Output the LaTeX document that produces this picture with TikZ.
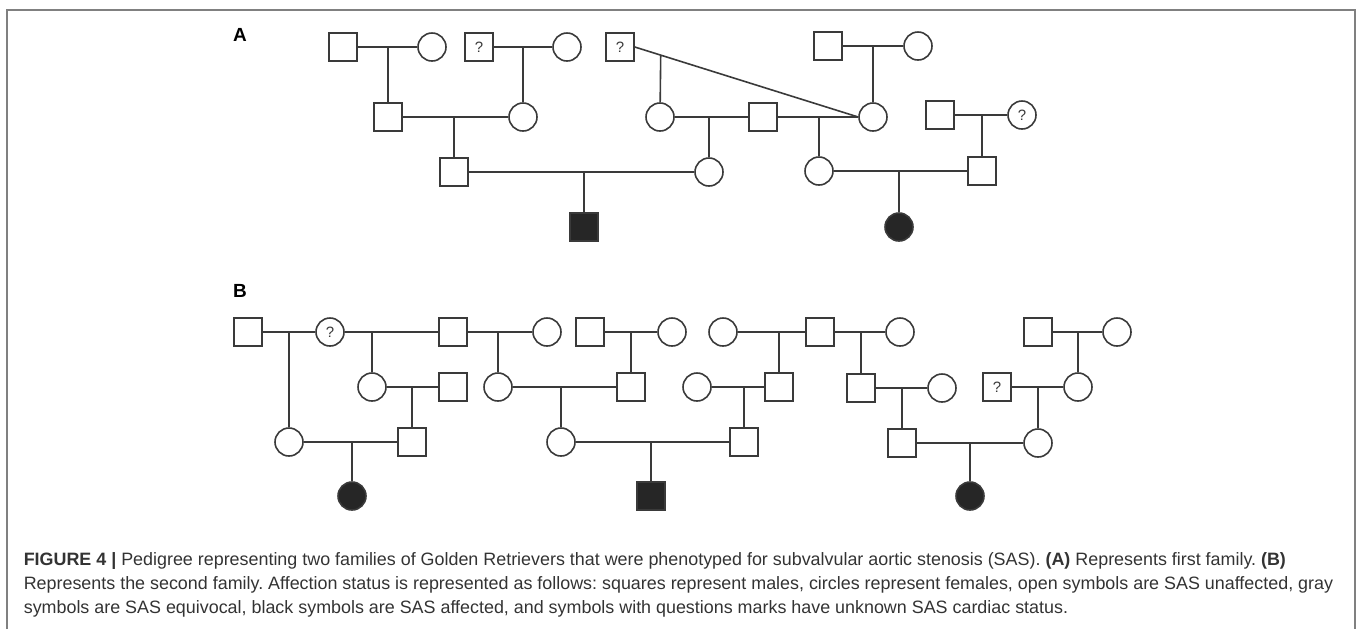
\documentclass[tikz,border=0pt]{standalone}
\usepackage{fontspec}
\setmainfont{Liberation Sans}
\usetikzlibrary{calc}
\definecolor{ink}{HTML}{3A3A3A}
\definecolor{solid}{HTML}{262626}
\definecolor{rim}{HTML}{808080}
\definecolor{captext}{HTML}{333333}
\frenchspacing
\begin{document}
\begin{tikzpicture}[x=0.5pt, y=-0.5pt, line width=0.8pt, color=ink,
			male/.style = {draw, rectangle, minimum size=14pt, inner sep=0pt},
			female/.style = {draw, circle, minimum size=14pt, inner sep=0pt},
			aff/.style = {fill=solid},
			unk/.style = {font=\fontsize{7.5}{8}\selectfont},
			panel/.style = {font=\fontsize{9.5}{10}\selectfont\bfseries, text=black},
			caption/.style = {anchor=base west, inner sep=0pt, text=captext, font=\fontsize{8.95}{12}\selectfont}]
			
			\useasboundingbox (0,0) rectangle (1358,629);
			\draw[rim, line width=1pt] (7,629) -- (7,10) -- (1355,10) -- (1355,629);
			
			\node[panel] (la) at (240,35) {A};
			\node[panel] (lb) at (240,291) {B};
			
			\node[male] (a1) at (343,47) {};
			\node[female] (a2) at (432,47) {};
			\node[male, unk] (a3) at (479,47) {?};
			\node[female] (a4) at (567,47) {};
			\node[male, unk] (a5) at (620,47) {?};
			\node[male] (a6) at (828,46) {};
			\node[female] (a7) at (918,46) {};
			\node[male] (a8) at (388,117) {};
			\node[female] (a9) at (523,117) {};
			\node[female] (a10) at (660,117) {};
			\node[male] (a11) at (763,117) {};
			\node[female] (a12) at (873,117) {};
			\node[male] (a13) at (940,115) {};
			\node[female, unk] (a14) at (1022,115) {?};
			\node[male] (a15) at (454,172) {};
			\node[female] (a16) at (709,172) {};
			\node[female] (a17) at (819,171) {};
			\node[male] (a18) at (982,171) {};
			\node[male, aff] (a19) at (584,227) {};
			\node[female, aff] (a20) at (899,227) {};
			
			\draw[-] (a1) -- (a2);
			\draw[-] (a3) -- (a4);
			\draw[-] (a5.east) -- (a12.west);
			\draw[-] (a6) -- (a7);
			\draw[-] (a8) -- (a9);
			\draw[-] (a10) -- (a11);
			\draw[-] (a11) -- (a12);
			\draw[-] (a13) -- (a14);
			\draw[-] (a15) -- (a16);
			\draw[-] (a17) -- (a18);
			
			\coordinate (ja1) at (a8 |- a1);
			\coordinate (ja2) at (a9 |- a3);
			\coordinate (ja3) at ($(a5.east)!0.116!(a12.west)$);
			\coordinate (ja4) at (a12 |- a6);
			\coordinate (ja5) at (a15 |- a8);
			\coordinate (ja6) at (a16 |- a10);
			\coordinate (ja7) at (a17 |- a11);
			\coordinate (ja8) at (a18 |- a13);
			\coordinate (ja9) at (a19 |- a15);
			\coordinate (ja10) at (a20 |- a17);
			\draw[-] (ja1) -- (a8);
			\draw[-] (ja2) -- (a9);
			\draw[-] (ja3) -- (a10);
			\draw[-] (ja4) -- (a12);
			\draw[-] (ja5) -- (a15);
			\draw[-] (ja6) -- (a16);
			\draw[-] (ja7) -- (a17);
			\draw[-] (ja8) -- (a18);
			\draw[-] (ja9) -- (a19);
			\draw[-] (ja10) -- (a20);
			
			\node[male] (b1) at (248,332) {};
			\node[female, unk] (b2) at (330,332) {?};
			\node[male] (b3) at (453,332) {};
			\node[female] (b4) at (547,332) {};
			\node[male] (b5) at (590,332) {};
			\node[female] (b6) at (672,332) {};
			\node[female] (b7) at (723,332) {};
			\node[male] (b8) at (820,332) {};
			\node[female] (b9) at (900,332) {};
			\node[male] (b10) at (1038,332) {};
			\node[female] (b11) at (1117,332) {};
			\node[female] (b12) at (372,387) {};
			\node[male] (b13) at (453,387) {};
			\node[female] (b14) at (498,387) {};
			\node[male] (b15) at (631,387) {};
			\node[female] (b16) at (697,387) {};
			\node[male] (b17) at (779,387) {};
			\node[male] (b18) at (861,388) {};
			\node[female] (b19) at (942,388) {};
			\node[male, unk] (b20) at (997,387) {?};
			\node[female] (b21) at (1078,387) {};
			\node[female] (b22) at (289,442) {};
			\node[male] (b23) at (412,442) {};
			\node[female] (b24) at (561,442) {};
			\node[male] (b25) at (744,442) {};
			\node[male] (b26) at (902,443) {};
			\node[female] (b27) at (1038,443) {};
			\node[female, aff] (b28) at (352,496) {};
			\node[male, aff] (b29) at (651,496) {};
			\node[female, aff] (b30) at (970,496) {};
			
			\draw[-] (b1) -- (b2);
			\draw[-] (b2) -- (b3);
			\draw[-] (b3) -- (b4);
			\draw[-] (b5) -- (b6);
			\draw[-] (b7) -- (b8);
			\draw[-] (b8) -- (b9);
			\draw[-] (b10) -- (b11);
			\draw[-] (b12) -- (b13);
			\draw[-] (b14) -- (b15);
			\draw[-] (b16) -- (b17);
			\draw[-] (b18) -- (b19);
			\draw[-] (b20) -- (b21);
			\draw[-] (b22) -- (b23);
			\draw[-] (b24) -- (b25);
			\draw[-] (b26) -- (b27);
			
			\coordinate (jb1) at (b22 |- b1);
			\coordinate (jb2) at (b12 |- b2);
			\coordinate (jb3) at (b14 |- b3);
			\coordinate (jb4) at (b15 |- b5);
			\coordinate (jb5) at (b17 |- b7);
			\coordinate (jb6) at (b18 |- b8);
			\coordinate (jb7) at (b21 |- b10);
			\coordinate (jb8) at (b23 |- b12);
			\coordinate (jb9) at (b24 |- b14);
			\coordinate (jb10) at (b25 |- b16);
			\coordinate (jb11) at (b26 |- b18);
			\coordinate (jb12) at (b27 |- b20);
			\coordinate (jb13) at (b28 |- b22);
			\coordinate (jb14) at (b29 |- b24);
			\coordinate (jb15) at (b30 |- b26);
			\draw[-] (jb1) -- (b22);
			\draw[-] (jb2) -- (b12);
			\draw[-] (jb3) -- (b14);
			\draw[-] (jb4) -- (b15);
			\draw[-] (jb5) -- (b17);
			\draw[-] (jb6) -- (b18);
			\draw[-] (jb7) -- (b21);
			\draw[-] (jb8) -- (b23);
			\draw[-] (jb9) -- (b24);
			\draw[-] (jb10) -- (b25);
			\draw[-] (jb11) -- (b26);
			\draw[-] (jb12) -- (b27);
			\draw[-] (jb13) -- (b28);
			\draw[-] (jb14) -- (b29);
			\draw[-] (jb15) -- (b30);
			
			\node[caption] (c1) at (23,565) {\textbf{FIGURE 4 |} Pedigree representing two families of Golden Retrievers that were phenotyped for subvalvular aortic stenosis (SAS). \textbf{(A)} Represents first family. \textbf{(B)}};
			\node[caption] (c2) at (23,589) {Represents the second family. Affection status is represented as follows: squares represent males, circles represent females, open symbols are SAS unaffected, gray};
			\node[caption] (c3) at (23,613) {symbols are SAS equivocal, black symbols are SAS affected, and symbols with questions marks have unknown SAS cardiac status.};
			
		\end{tikzpicture}
\end{document}
